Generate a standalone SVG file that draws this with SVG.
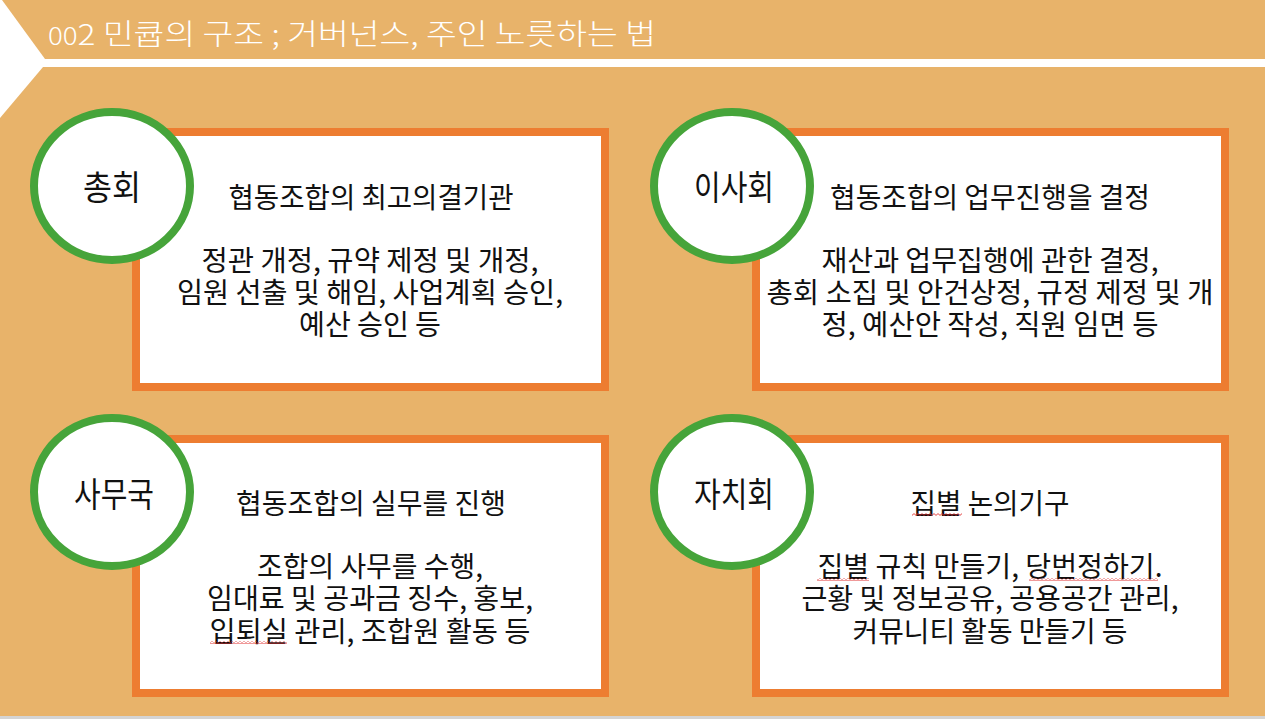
<svg xmlns="http://www.w3.org/2000/svg" width="1265" height="719" viewBox="0 0 1265 719">
<defs>
<style>
.bg{fill:#E8B36A}
.box{fill:#FFFFFF;stroke:#ED7D31;stroke-width:8}
.ring{fill:#FFFFFF;stroke:#46A43A;stroke-width:8}
.title{font-family:"Noto Sans CJK KR","Noto Sans",sans-serif;font-weight:300;font-size:29px;fill:#FFFFFF}
.label{font-family:"Noto Sans CJK KR","Noto Sans",sans-serif;font-size:34px;fill:#111111;text-anchor:middle}
.body{font-family:"Noto Sans CJK KR","Noto Sans",sans-serif;font-size:28px;fill:#111111;text-anchor:middle}
</style>
<pattern id="squiggle" x="0" y="0" width="4" height="3" patternUnits="userSpaceOnUse">
<path d="M0,2.4 L2,0.6 L4,2.4" fill="none" stroke="#E03030" stroke-width="0.9"/>
</pattern>
</defs>
<rect x="0" y="0" width="1265" height="719" fill="#FFFFFF"/>
<polygon class="bg" points="2,0 1265,0 1265,59 45,59"/>
<polygon class="bg" points="43,67 1265,67 1265,716 0,716 0,118"/>
<rect x="0" y="716" width="1265" height="3" fill="#D4D4D4"/>
<text class="title" x="48" y="45" textLength="608" lengthAdjust="spacingAndGlyphs"><tspan font-size="24">00</tspan>2 민큡의 구조 ; 거버넌스, 주인 노릇하는 법</text>
<g id="connectors"/>
<g id="node-chonghoe">
<rect class="box" x="136" y="132" width="469" height="255"/>
<ellipse class="ring" cx="112" cy="186" rx="78" ry="74"/>
<text class="label" x="112" y="200" textLength="58" lengthAdjust="spacingAndGlyphs">총회</text>
<text class="body" x="371" y="208" textLength="285" lengthAdjust="spacingAndGlyphs">협동조합의 최고의결기관</text>
<text class="body" x="370" y="271" textLength="337" lengthAdjust="spacingAndGlyphs">정관 개정, 규약 제정 및 개정,</text>
<text class="body" x="370" y="303" textLength="386" lengthAdjust="spacingAndGlyphs">임원 선출 및 해임, 사업계획 승인,</text>
<text class="body" x="370" y="335" textLength="142" lengthAdjust="spacingAndGlyphs">예산 승인 등</text>
</g>
<g id="node-isahoe">
<rect class="box" x="756" y="132" width="469" height="255"/>
<ellipse class="ring" cx="732" cy="186" rx="78" ry="74"/>
<text class="label" x="734" y="200" textLength="80" lengthAdjust="spacingAndGlyphs">이사회</text>
<text class="body" x="990" y="208" textLength="320" lengthAdjust="spacingAndGlyphs">협동조합의 업무진행을 결정</text>
<text class="body" x="990" y="271" textLength="337" lengthAdjust="spacingAndGlyphs">재산과 업무집행에 관한 결정,</text>
<text class="body" x="990" y="303" textLength="447" lengthAdjust="spacingAndGlyphs">총회 소집 및 안건상정, 규정 제정 및 개</text>
<text class="body" x="990" y="335" textLength="337" lengthAdjust="spacingAndGlyphs">정, 예산안 작성, 직원 임면 등</text>
</g>
<g id="node-samuguk">
<rect class="box" x="136" y="439" width="469" height="254"/>
<ellipse class="ring" cx="112" cy="492" rx="78" ry="74"/>
<text class="label" x="114" y="507" textLength="80" lengthAdjust="spacingAndGlyphs">사무국</text>
<text class="body" x="371" y="514" textLength="270" lengthAdjust="spacingAndGlyphs">협동조합의 실무를 진행</text>
<text class="body" x="370" y="577" textLength="226" lengthAdjust="spacingAndGlyphs">조합의 사무를 수행,</text>
<text class="body" x="370" y="609" textLength="326" lengthAdjust="spacingAndGlyphs">임대료 및 공과금 징수, 홍보,</text>
<text class="body" x="370" y="642" textLength="321" lengthAdjust="spacingAndGlyphs">입퇴실 관리, 조합원 활동 등</text>
<rect x="210" y="641" width="77" height="3" fill="url(#squiggle)"/>
</g>
<g id="node-jachihoe">
<rect class="box" x="756" y="439" width="469" height="254"/>
<ellipse class="ring" cx="732" cy="492" rx="78" ry="74"/>
<text class="label" x="734" y="507" textLength="80" lengthAdjust="spacingAndGlyphs">자치회</text>
<text class="body" x="990" y="514" textLength="159" lengthAdjust="spacingAndGlyphs">집별 논의기구</text>
<text class="body" x="990" y="577" textLength="345" lengthAdjust="spacingAndGlyphs">집별 규칙 만들기, 당번정하기.</text>
<text class="body" x="990" y="609" textLength="377" lengthAdjust="spacingAndGlyphs">근황 및 정보공유, 공용공간 관리,</text>
<text class="body" x="990" y="642" textLength="275" lengthAdjust="spacingAndGlyphs">커뮤니티 활동 만들기 등</text>
<rect x="912" y="513" width="50" height="3" fill="url(#squiggle)"/>
<rect x="817" y="578" width="52" height="3" fill="url(#squiggle)"/>
<rect x="1029" y="578" width="129" height="3" fill="url(#squiggle)"/>
</g>
</svg>
